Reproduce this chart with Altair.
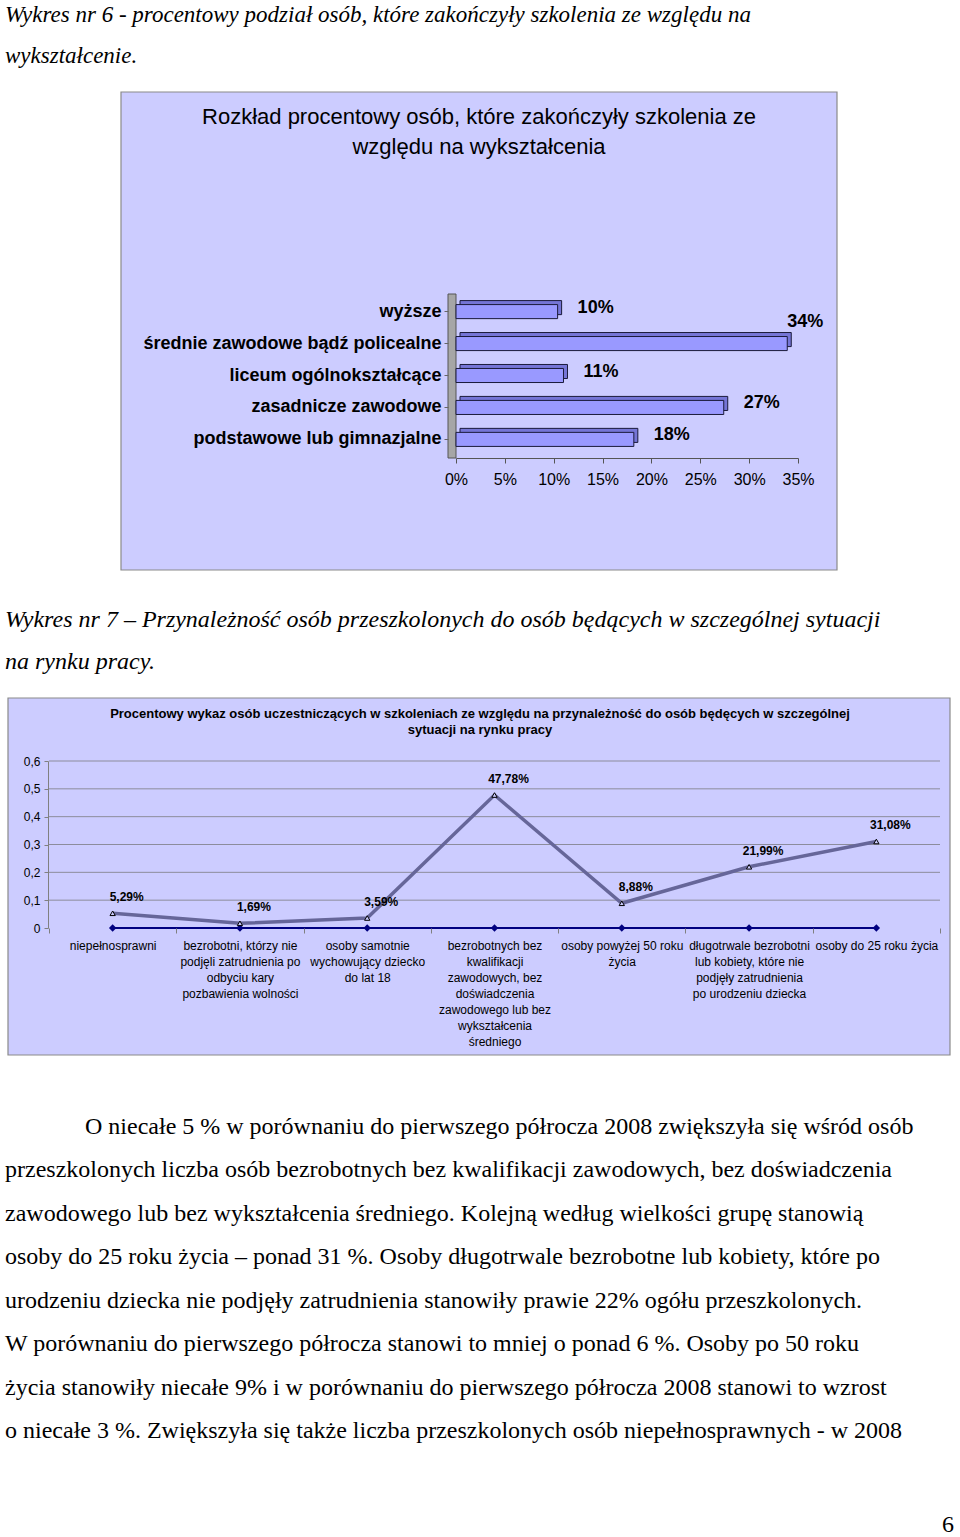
import altair as alt
import pandas as pd

SANS = "Liberation Sans, Arial, sans-serif"
SERIF = "Liberation Serif, Times New Roman, serif"

# ---------------- data ----------------
caption1 = ["Wykres nr 6 - procentowy podział osób, które zakończyły szkolenia ze względu na",
            "wykształcenie."]
title1 = ["Rozkład procentowy osób, które zakończyły szkolenia ze", "względu na wykształcenia"]
edu_categories = ["wyższe", "średnie zawodowe bądź policealne", "liceum ogólnokształcące",
                  "zasadnicze zawodowe", "podstawowe lub gimnazjalne"]
edu_values = [10.4, 33.9, 11.0, 27.4, 18.2]
edu_ticks = [0, 5, 10, 15, 20, 25, 30, 35]

caption2 = ["Wykres nr 7 – Przynależność osób przeszkolonych do osób będących w szczególnej sytuacji",
            "na rynku  pracy."]
title2 = ["Procentowy wykaz osób uczestniczących w szkoleniach ze względu na przynależność do osób będęcych w szczególnej",
          "sytuacji na rynku pracy"]
group_categories = [
    "niepełnosprawni",
    "bezrobotni, którzy nie|podjęli zatrudnienia po|odbyciu kary|pozbawienia wolności",
    "osoby samotnie|wychowujący dziecko|do lat 18",
    "bezrobotnych bez|kwalifikacji|zawodowych, bez|doświadczenia|zawodowego  lub bez|wykształcenia|średniego",
    "osoby powyżej 50 roku|życia",
    "długotrwale bezrobotni|lub kobiety, które nie|podjęły zatrudnienia|po urodzeniu dziecka",
    "osoby do 25 roku życia",
]
group_values = [0.0529, 0.0169, 0.0359, 0.4778, 0.0888, 0.2199, 0.3108]
baseline_values = [0, 0, 0, 0, 0, 0, 0]
group_ticks = [0, 0.1, 0.2, 0.3, 0.4, 0.5, 0.6]

paragraph_first = "O niecałe 5 % w porównaniu do pierwszego półrocza 2008 zwiększyła się wśród osób"
paragraph_rest = [
    "przeszkolonych liczba osób bezrobotnych bez kwalifikacji zawodowych, bez doświadczenia",
    "zawodowego lub bez wykształcenia średniego. Kolejną według wielkości grupę stanowią",
    "osoby do 25 roku życia – ponad 31 %. Osoby długotrwale bezrobotne lub kobiety, które po",
    "urodzeniu dziecka nie podjęły zatrudnienia stanowiły prawie 22% ogółu przeszkolonych.",
    "W porównaniu do pierwszego półrocza stanowi to mniej o ponad 6 %. Osoby po 50 roku",
    "życia stanowiły niecałe 9% i w porównaniu do pierwszego półrocza 2008 stanowi to wzrost",
    "o niecałe 3 %. Zwiększyła się także liczba przeszkolonych osób niepełnosprawnych - w 2008",
]
page_number = "6"

H = 1537
BOX_FILL = "#CCCCFF"

# ---------------- helpers ----------------
def text_lines(lines, y0, y1, x, size, style="normal"):
    df = pd.DataFrame({"i": list(range(len(lines))), "t": lines})
    return alt.Chart(df).mark_text(
        align="left", baseline="middle", font=SERIF, fontSize=size, fontStyle=style, color="black"
    ).encode(
        x=alt.value(x),
        y=alt.Y("i:Q", scale=alt.Scale(domain=[0, max(len(lines) - 1, 1)], range=[y0, y1]), axis=None),
        text="t:N",
    )

def box(x0, x1, y0, y1):
    return alt.Chart(pd.DataFrame({"a": [0]})).mark_rect(
        fill=BOX_FILL, stroke="#8a8a8a", strokeWidth=1.2
    ).encode(x=alt.value(x0), x2=alt.value(x1), y=alt.value(y0), y2=alt.value(y1))

# ---------------- captions ----------------
cap1 = text_lines(caption1, 15, 56, 5, 23, "italic")
cap2 = text_lines(caption2, 620, 662, 5, 24, "italic")

# ---------------- chart 1 ----------------
box1 = box(121, 837, 92, 570)
t1 = alt.Chart(pd.DataFrame({"a": [0]})).mark_text(
    align="center", baseline="middle", font=SANS, fontSize=22, lineHeight=30, color="black"
).encode(x=alt.value(479), y=alt.value(117), text=alt.value(title1))

edu_df = pd.DataFrame({"c": edu_categories, "v": edu_values})
x1_scale = alt.Scale(domain=[0, 35], range=[456, 798], nice=False, zero=True)
y1_scale = alt.Scale(domain=edu_categories, range=[295, 456], paddingInner=0.56, paddingOuter=0.3)
x1_axis = alt.Axis(orient="bottom", offset=458 - H, values=edu_ticks, labelExpr="datum.value + '%'",
                   labelFont=SANS, labelFontSize=16, labelColor="black", domainColor="#555555",
                   tickColor="#555555", tickSize=5, labelPadding=8, labelFlush=False, labelOverlap=False,
                   grid=False, title=None, zindex=2)
y1_axis = alt.Axis(orient="left", offset=-448, labelFont=SANS, labelFontSize=18, labelFontWeight="bold",
                   labelColor="black", domain=False, tickSize=4, tickColor="#666666", labelPadding=3,
                   labelLimit=400, grid=False, title=None, zindex=2)
X1 = alt.X("v:Q", scale=x1_scale, axis=x1_axis, title=None)
Y1 = alt.Y("c:N", scale=y1_scale, axis=y1_axis, title=None, sort=edu_categories)

wall = alt.Chart(pd.DataFrame({"a": [0]})).mark_rect(
    fill="#A6A6A6", stroke="#555555", strokeWidth=1
).encode(x=alt.value(448), x2=alt.value(456), y=alt.value(294), y2=alt.value(458))
bars_back = alt.Chart(edu_df).mark_bar(
    fill="#7575D6", stroke="#1a1a3a", strokeWidth=1, xOffset=4, x2Offset=4, yOffset=-4, y2Offset=-4
).encode(x=X1, y=Y1)
bars_front = alt.Chart(edu_df).mark_bar(
    fill="#9999FF", stroke="#1a1a3a", strokeWidth=1
).encode(x=X1, y=Y1)
labels1 = alt.Chart(edu_df).transform_filter("datum.v < 30").transform_calculate(
    lab="format(datum.v, '.0f') + '%'"
).mark_text(align="left", baseline="middle", font=SANS, fontSize=18, fontWeight="bold",
            dx=20, dy=-4, color="black").encode(x=X1, y=Y1, text="lab:N")
labels1_top = alt.Chart(edu_df).transform_filter("datum.v >= 30").transform_calculate(
    lab="format(datum.v, '.0f') + '%'"
).mark_text(align="left", baseline="middle", font=SANS, fontSize=18, fontWeight="bold",
            dx=0, dy=-22, color="black").encode(x=X1, y=Y1, text="lab:N")
chart1 = alt.layer(wall, bars_back, bars_front, labels1, labels1_top)

# ---------------- chart 2 ----------------
box2 = box(8, 950, 698, 1055)
t2 = alt.Chart(pd.DataFrame({"a": [0]})).mark_text(
    align="center", baseline="middle", font=SANS, fontSize=13, fontWeight="bold", lineHeight=16, color="black"
).encode(x=alt.value(480), y=alt.value(714), text=alt.value(title2))

grp_df = pd.DataFrame({"c": group_categories, "v": group_values, "z": baseline_values})
grid_df = pd.DataFrame({"g": group_ticks[1:]})
x2_scale = alt.Scale(type="band", domain=group_categories, range=[49, 940], paddingInner=0, paddingOuter=0)
y2_scale = alt.Scale(domain=[0, 0.6], range=[928, 761], nice=False, zero=True)
x2_axis = alt.Axis(orient="bottom", offset=928 - H, tickBand="extent", tickSize=5, tickColor="#808080",
                   domain=False, labelExpr="split(datum.label, '|')", labelFont=SANS,
                   labelFontSize=12, labelLineHeight=16, labelPadding=7, labelBaseline="top",
                   labelColor="black", labelOverlap=False, labelBound=False, labelLimit=300,
                   labelAngle=0, grid=False, title=None, zindex=2)
y2_axis = alt.Axis(orient="left", offset=-48, values=group_ticks,
                   labelExpr="datum.value == 0 ? '0' : replace(format(datum.value, '.1f'), '.', ',')",
                   labelFont=SANS, labelFontSize=12, labelColor="black", tickSize=4, tickColor="#808080",
                   domainColor="#808080", labelPadding=4, labelFlush=False, labelOverlap=False,
                   grid=False, title=None, zindex=2)
X2 = alt.X("c:N", scale=x2_scale, axis=x2_axis, bandPosition=0.5, title=None, sort=group_categories)

grid2 = alt.Chart(grid_df).mark_rule(color="#8c8c9c", strokeWidth=1).encode(
    x=alt.value(49), x2=alt.value(940),
    y=alt.Y("g:Q", scale=y2_scale, axis=y2_axis, title=None))
zero_line = alt.Chart(grp_df).mark_line(color="#000080", strokeWidth=2).encode(
    x=X2, y=alt.Y("z:Q", scale=y2_scale, axis=y2_axis, title=None))
zero_pts = alt.Chart(grp_df).mark_point(shape="diamond", size=55, filled=True, color="#000080", opacity=1).encode(
    x=X2, y=alt.Y("z:Q", scale=y2_scale, axis=y2_axis, title=None))
series_line = alt.Chart(grp_df).mark_line(color="#666699", strokeWidth=3.5).encode(
    x=X2, y=alt.Y("v:Q", scale=y2_scale, axis=y2_axis, title=None))
series_pts = alt.Chart(grp_df).mark_point(shape="triangle-up", size=28, filled=True, fill="#CCCCFF",
                                         stroke="#000000", strokeWidth=1, opacity=1).encode(
    x=X2, y=alt.Y("v:Q", scale=y2_scale, axis=y2_axis, title=None))
labels2 = alt.Chart(grp_df).transform_calculate(
    lab="replace(format(datum.v * 100, '.2f'), '.', ',') + '%'"
).mark_text(align="center", baseline="middle", font=SANS, fontSize=12, fontWeight="bold",
            dx=14, dy=-16, color="black").encode(
    x=X2, y=alt.Y("v:Q", scale=y2_scale, axis=y2_axis, title=None), text="lab:N")
chart2 = alt.layer(grid2, zero_line, zero_pts, series_line, series_pts, labels2)

# ---------------- paragraph ----------------
para_first = alt.Chart(pd.DataFrame({"t": [paragraph_first]})).mark_text(
    align="left", baseline="middle", font=SERIF, fontSize=24, color="black"
).encode(x=alt.value(85), y=alt.value(1127), text="t:N")
para_rest = text_lines(paragraph_rest, 1170, 1431, 5, 24)
page_no = alt.Chart(pd.DataFrame({"t": [page_number]})).mark_text(
    align="center", baseline="middle", font=SERIF, fontSize=24, color="black"
).encode(x=alt.value(948), y=alt.value(1525), text="t:N")

chart = alt.layer(
    cap1, box1, t1, chart1, cap2, box2, t2, chart2, para_first, para_rest, page_no
).resolve_scale(x="independent", y="independent").properties(
    width=960, height=H, padding=0, autosize=alt.AutoSizeParams(type="none"), background="white"
).configure_view(stroke=None)

chart.save("out.html", embed_options={"renderer": "svg", "actions": False})
